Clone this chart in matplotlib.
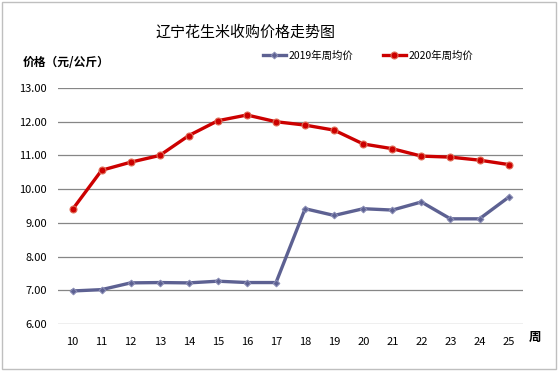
import matplotlib.pyplot as plt
from matplotlib.patches import Rectangle

plt.rcParams['font.family'] = ['Noto Sans CJK SC', 'DejaVu Sans']

# weeks and weekly average prices (yuan/kg)
weeks = ['10', '11', '12', '13', '14', '15', '16', '17',
         '18', '19', '20', '21', '22', '23', '24', '25']
price_2019 = [6.98, 7.02, 7.22, 7.23, 7.22, 7.27, 7.23, 7.23,
              9.42, 9.22, 9.42, 9.38, 9.62, 9.12, 9.12, 9.76]
price_2020 = [9.40, 10.56, 10.80, 11.00, 11.59, 12.03, 12.20, 12.00,
              11.90, 11.75, 11.34, 11.20, 10.98, 10.95, 10.86, 10.73]
y_ticks = [6, 7, 8, 9, 10, 11, 12, 13]

fig = plt.figure(figsize=(5.59, 3.72), dpi=100)
ax = fig.add_axes([0.1038, 0.129, 0.832, 0.6344])

x = range(len(weeks))
ax.plot(x, price_2019, color='#5d6192', lw=2.4, marker='D', ms=3.4,
        mec='#8a8db5', mew=0.8, label='2019年周均价')
ax.plot(x, price_2020, color='#cc0000', lw=2.4, marker='o', ms=5,
        mec='#e0705a', mew=0.8, label='2020年周均价')

ax.set_xlim(-0.5, len(weeks) - 0.5)
ax.set_ylim(6, 13)
ax.set_yticks(y_ticks)
ax.set_yticklabels(['%.2f' % v for v in y_ticks], fontsize=8)
ax.set_xticks(list(x))
ax.set_xticklabels(weeks, fontsize=8)
ax.tick_params(length=0, pad=8)
ax.tick_params(axis='x', pad=9)
ax.grid(axis='y', color='#868686', lw=0.9)
ax.set_axisbelow(True)
for s in ax.spines.values():
    s.set_visible(False)

fig.text(0.44, 0.913, '辽宁花生米收购价格走势图', ha='center', va='center', fontsize=10.8)
fig.text(0.04, 0.833, '价格（元/公斤）', ha='left', va='center', fontsize=8.5, fontweight='bold')
fig.text(0.957, 0.094, '周', ha='center', va='center', fontsize=9, fontweight='bold')

ax.legend(loc='lower left', bbox_to_anchor=(0.44, 1.115), ncol=2, frameon=False,
          fontsize=7.5, handlelength=2.2, handletextpad=0.3, columnspacing=2.8,
          borderaxespad=0, borderpad=0)

fig.patches.append(Rectangle((0.004, 0.008), 0.99, 0.986, transform=fig.transFigure,
                             fill=False, ec='#bfbfbf', lw=1))

fig.savefig('out.png', dpi=100)
